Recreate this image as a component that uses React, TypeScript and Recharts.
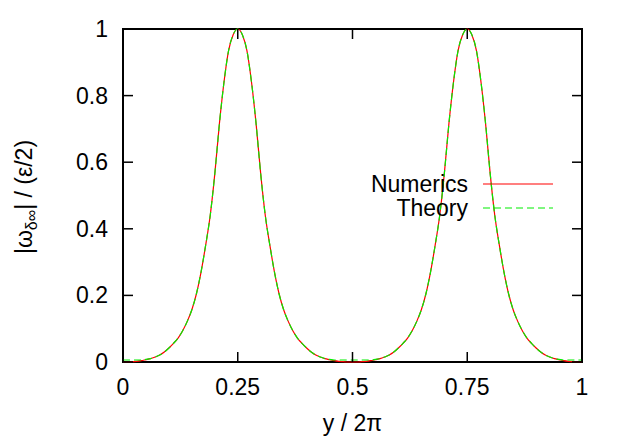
import React from 'react';
import {
  LineChart,
  Line,
  XAxis,
  YAxis,
  Legend,
  ReferenceArea
} from 'recharts';

// sampled positions y/2pi
const xs = [
  0, 0.01, 0.02, 0.03, 0.04, 0.05, 0.06, 0.07, 0.08, 0.09,
  0.1, 0.11, 0.12, 0.13, 0.14, 0.15, 0.16, 0.17, 0.18, 0.19,
  0.2, 0.21, 0.22, 0.23, 0.24, 0.25, 0.26, 0.27, 0.28, 0.29,
  0.3, 0.31, 0.32, 0.33, 0.34, 0.35, 0.36, 0.37, 0.38, 0.39,
  0.4, 0.41, 0.42, 0.43, 0.44, 0.45, 0.46, 0.47, 0.48, 0.49,
  0.5, 0.51, 0.52, 0.53, 0.54, 0.55, 0.56, 0.57, 0.58, 0.59,
  0.6, 0.61, 0.62, 0.63, 0.64, 0.65, 0.66, 0.67, 0.68, 0.69,
  0.7, 0.71, 0.72, 0.73, 0.74, 0.75, 0.76, 0.77, 0.78, 0.79,
  0.8, 0.81, 0.82, 0.83, 0.84, 0.85, 0.86, 0.87, 0.88, 0.89,
  0.9, 0.91, 0.92, 0.93, 0.94, 0.95, 0.96, 0.97, 0.98, 0.99,
  1
];

const numerics = [
  0, 0, 0.001, 0.002, 0.004, 0.007, 0.01, 0.015, 0.021, 0.03,
  0.042, 0.056, 0.072, 0.094, 0.122, 0.157, 0.205, 0.27, 0.35, 0.44,
  0.565, 0.715, 0.84, 0.935, 0.983, 1, 0.983, 0.935, 0.84, 0.715,
  0.565, 0.44, 0.35, 0.27, 0.205, 0.157, 0.122, 0.094, 0.072, 0.056,
  0.042, 0.03, 0.021, 0.015, 0.01, 0.007, 0.004, 0.002, 0.001, 0,
  0, 0, 0.001, 0.002, 0.004, 0.007, 0.01, 0.015, 0.021, 0.03,
  0.042, 0.056, 0.072, 0.094, 0.122, 0.157, 0.205, 0.27, 0.35, 0.44,
  0.565, 0.715, 0.84, 0.935, 0.983, 1, 0.983, 0.935, 0.84, 0.715,
  0.565, 0.44, 0.35, 0.27, 0.205, 0.157, 0.122, 0.094, 0.072, 0.056,
  0.042, 0.03, 0.021, 0.015, 0.01, 0.007, 0.004, 0.002, 0.001, 0,
  0
];

const theory = [
  0.006, 0.006, 0.006, 0.006, 0.006, 0.008, 0.01, 0.015, 0.021, 0.03,
  0.042, 0.056, 0.072, 0.094, 0.122, 0.157, 0.205, 0.27, 0.35, 0.44,
  0.565, 0.715, 0.84, 0.935, 0.983, 1, 0.983, 0.935, 0.84, 0.715,
  0.565, 0.44, 0.35, 0.27, 0.205, 0.157, 0.122, 0.094, 0.072, 0.056,
  0.042, 0.03, 0.021, 0.015, 0.01, 0.008, 0.006, 0.006, 0.006, 0.006,
  0.006, 0.006, 0.006, 0.006, 0.006, 0.008, 0.01, 0.015, 0.021, 0.03,
  0.042, 0.056, 0.072, 0.094, 0.122, 0.157, 0.205, 0.27, 0.35, 0.44,
  0.565, 0.715, 0.84, 0.935, 0.983, 1, 0.983, 0.935, 0.84, 0.715,
  0.565, 0.44, 0.35, 0.27, 0.205, 0.157, 0.122, 0.094, 0.072, 0.056,
  0.042, 0.03, 0.021, 0.015, 0.01, 0.008, 0.006, 0.006, 0.006, 0.006,
  0.006
];

const xTicks = [0, 0.25, 0.5, 0.75, 1];
const yTicks = [0, 0.2, 0.4, 0.6, 0.8, 1];

const W = 623;
const H = 436;
const FONT = '"Liberation Sans", Arial, Helvetica, sans-serif';
const FS = 23;
const PLOT_W = 459;
const PLOT_H = 333;
const TICK = 10;

const data = xs.map((x, i) => ({ x, numerics: numerics[i], theory: theory[i] }));

function XTick(props: any) {
  const { x, y, payload } = props;
  return (
    <g>
      <line x1={x} y1={y} x2={x} y2={y - TICK} stroke="#000" strokeWidth={1.5} />
      <line x1={x} y1={y - PLOT_H} x2={x} y2={y - PLOT_H + TICK} stroke="#000" strokeWidth={1.5} />
      <text x={x} y={y + 33} textAnchor="middle" fontFamily={FONT} fontSize={FS} fill="#000">
        {payload.value}
      </text>
    </g>
  );
}

function YTick(props: any) {
  const { x, y, payload } = props;
  return (
    <g>
      <line x1={x} y1={y} x2={x + TICK} y2={y} stroke="#000" strokeWidth={1.5} />
      <line x1={x + PLOT_W} y1={y} x2={x + PLOT_W - TICK} y2={y} stroke="#000" strokeWidth={1.5} />
      <text x={x - 15} y={y + 8} textAnchor="end" fontFamily={FONT} fontSize={FS} fill="#000">
        {payload.value}
      </text>
    </g>
  );
}

function YLabel() {
  return (
    <text
      x={32}
      y={197}
      transform="rotate(-90 32 197)"
      textAnchor="middle"
      fontFamily={FONT}
      fontSize={FS}
      fill="#000"
    >
      <tspan>|ω</tspan>
      <tspan fontSize={16} dy={5}>δ∞</tspan>
      <tspan dy={-5}>| / (ε/2)</tspan>
    </text>
  );
}

function XLabel() {
  return (
    <text x={352.5} y={431} textAnchor="middle" fontFamily={FONT} fontSize={FS} fill="#000">
      y / 2π
    </text>
  );
}

function LegendBox(props: any) {
  const items = props.payload || [];
  return (
    <svg width={220} height={54} style={{ display: 'block', overflow: 'visible' }}>
      {items.map((item: any, i: number) => (
        <g key={item.value}>
          <text x={118} y={22 + i * 24} textAnchor="end" fontFamily={FONT} fontSize={FS} fill="#000">
            {item.value}
          </text>
          <line
            x1={133}
            y1={14 + i * 24}
            x2={203}
            y2={14 + i * 24}
            stroke={item.color}
            strokeWidth={1.2}
            strokeDasharray={i === 1 ? '7 4' : undefined}
          />
        </g>
      ))}
    </svg>
  );
}

export default function App() {
  return (
    <div style={{ position: 'absolute', left: 0, top: 0, width: W, height: H, background: '#fff' }}>
      <LineChart width={W} height={H} data={data} margin={{ top: 29, right: 41, bottom: 0, left: 0 }}>
        <XAxis
          dataKey="x"
          type="number"
          domain={[0, 1]}
          ticks={xTicks}
          height={74}
          axisLine={false}
          tickLine={false}
          tickSize={0}
          tickMargin={0}
          tick={<XTick />}
          label={<XLabel />}
          interval={0}
        />
        <YAxis
          type="number"
          domain={[0, 1]}
          ticks={yTicks}
          width={123}
          axisLine={false}
          tickLine={false}
          tickSize={0}
          tickMargin={0}
          tick={<YTick />}
          label={<YLabel />}
          interval={0}
        />
        <Line
          name="Numerics"
          dataKey="numerics"
          type="monotone"
          stroke="#ff0000"
          strokeWidth={1.2}
          dot={false}
          isAnimationActive={false}
        />
        <Line
          name="Theory"
          dataKey="theory"
          type="monotone"
          stroke="#00ee00"
          strokeWidth={1.2}
          strokeDasharray="7 4"
          dot={false}
          isAnimationActive={false}
        />
        <ReferenceArea x1={0} x2={1} y1={0} y2={1} fill="none" stroke="#000" strokeWidth={2} />
        <Legend
          layout="vertical"
          align="center"
          verticalAlign="middle"
          content={<LegendBox />}
          wrapperStyle={{ left: 350, top: 170, width: 220, height: 54 }}
        />
      </LineChart>
    </div>
  );
}
